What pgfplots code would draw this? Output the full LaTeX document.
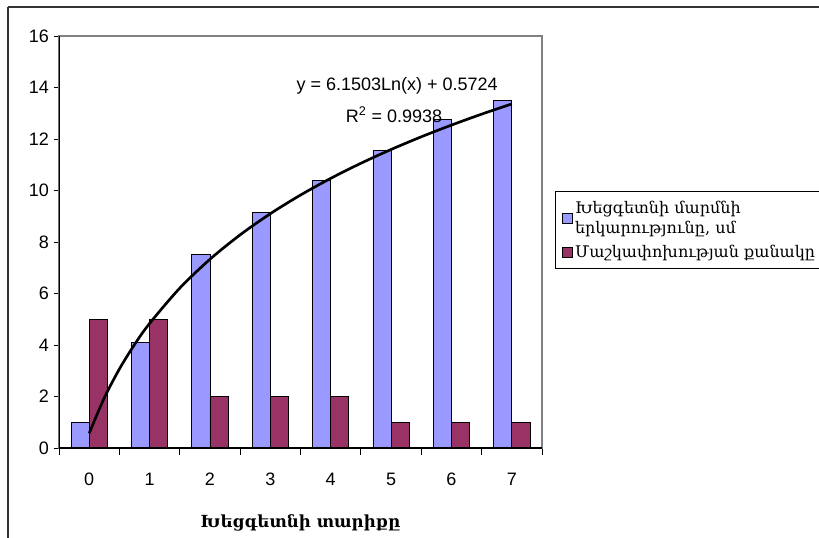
\documentclass[border=0pt]{standalone}
\usepackage{pgfplots}
\pgfplotsset{compat=1.18}
\usepackage{fontspec}
\setmainfont{Liberation Sans}
\newfontfamily\arm{DejaVu Serif}

\definecolor{barblue}{HTML}{9999FF}
\definecolor{barred}{HTML}{993366}

\begin{document}
\begin{tikzpicture}[x=0.75pt,y=0.75pt]
  % page = 819 x 537 px; axis origin sits at pixel (59,448)
  \useasboundingbox (-59,448) rectangle (760,-89);
  \draw[line width=1.5pt, black!80] (-51,441) -- (-51,-120);
  \draw[line width=1.5pt, black!80] (-51,441) -- (800,441);

  \begin{axis}[
    at={(0,0)}, anchor=south west,
    scale only axis,
    width=362.25pt, height=309pt,
    font=\fontsize{13.5}{16}\selectfont,
    /pgf/number format/assume math mode=true,
    % x-axis
    xmin=-0.5, xmax=7.5,
    xtick={0,...,7},
    major x tick style={draw=none},
    minor xtick={-0.5,0.5,...,7.5},
    minor tick length=5pt,
    xticklabel style={yshift=-11pt},
    xlabel={\arm\bfseries\fontsize{12.5}{15}\selectfont Խեցգետնի տարիքը},
    xlabel style={yshift=-15pt},
    % y-axis
    ymin=0, ymax=16,
    ytick={0,2,...,16},
    major tick length=4pt,
    tick align=outside,
    ytick pos=left,
    xtick pos=bottom,
    tick style={black, line width=0.6pt},
    axis line style={draw=black!50, line width=0.8pt},
    ybar, bar width=0.3,
    legend style={
      at={(rel axis cs:1.027,0.624)}, anchor=north west,
      draw=black, line width=0.8pt,
      font=\arm\fontsize{12}{15.5}\selectfont,
      cells={anchor=west, align=left},
      row sep=3pt, inner sep=5pt,
    },
    legend image code/.code={
      \draw[#1, line width=0.6pt] (0pt,-3.5pt) rectangle (7pt,3.5pt);
    },
    ]

    \addplot[fill=barblue, draw=black, line width=0.6pt, bar shift=-0.15] coordinates {
      (0,1.0) (1,4.1) (2,7.5) (3,9.15) (4,10.4) (5,11.55) (6,12.75) (7,13.5)
    };
    \addlegendentry{Խեցգետնի մարմնի\\երկարությունը, սմ}

    \addplot[fill=barred, draw=black, line width=0.6pt, bar shift=0.15] coordinates {
      (0,5) (1,5) (2,2) (3,2) (4,2) (5,1) (6,1) (7,1)
    };
    \addlegendentry{Մաշկափոխության քանակը}

    % logarithmic trendline, values
    \addplot[sharp plot, black, line width=2pt, smooth, forget plot] coordinates {
      (0,0.572) (0.25,1.945) (0.5,3.066) (0.75,4.014) (1,4.836) (1.5,6.208)
      (2,7.329) (2.5,8.277) (3,9.099) (3.5,9.823) (4,10.471) (4.5,11.057)
      (5,11.592) (5.5,12.085) (6,12.540) (6.5,12.965) (7,13.362)
    };

    \draw[black, line width=0.8pt] (rel axis cs:0,1) -- (rel axis cs:0,0) -- (rel axis cs:1,0);
    \node at (axis cs:5.1,14.05) {y = 6.1503Ln(x) + 0.5724};
    \node at (axis cs:5.05,12.95) {R\textsuperscript{2} = 0.9938};
  \end{axis}
\end{tikzpicture}
\end{document}
